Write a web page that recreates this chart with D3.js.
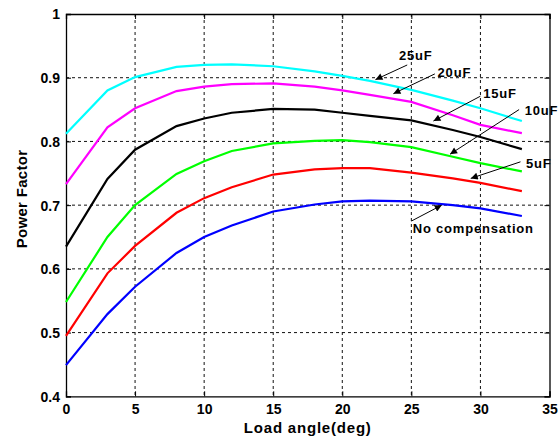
<!DOCTYPE html>
<html><head><meta charset="utf-8">
<script src="https://cdn.jsdelivr.net/npm/d3@7"></script>
<style>body{margin:0;background:#fff}svg{display:block}</style>
</head><body><svg id="c" width="558" height="441"></svg>
<script>
const loadAngle = [0,3,5,8,10,12,15,18,20,22,25,28,30,33];
const pf25uF = [0.812,0.880,0.901,0.917,0.920,0.921,0.918,0.910,0.903,0.895,0.881,0.864,0.852,0.832];
const pf20uF = [0.733,0.822,0.852,0.879,0.886,0.890,0.891,0.886,0.880,0.873,0.862,0.841,0.826,0.813];
const pf15uF = [0.635,0.741,0.787,0.824,0.836,0.845,0.851,0.850,0.845,0.840,0.833,0.818,0.807,0.788];
const pf10uF = [0.548,0.650,0.700,0.749,0.769,0.785,0.797,0.801,0.802,0.799,0.791,0.776,0.766,0.753];
const pf5uF  = [0.495,0.593,0.636,0.688,0.711,0.728,0.748,0.756,0.758,0.758,0.751,0.742,0.735,0.722];
const pfNone = [0.449,0.529,0.572,0.625,0.650,0.668,0.690,0.701,0.706,0.707,0.706,0.700,0.695,0.683];
const seriesNames = ["25uF","20uF","15uF","10uF","5uF","No compensation"];
const seriesColors = ["#00ffff","#ff00ff","#000000","#00ff00","#ff0000","#0000ff"];
const xTicks = [0,5,10,15,20,25,30,35];
const yTicks = [0.4,0.5,0.6,0.7,0.8,0.9,1];
// annotation: [label, label x, label y, arrow start x, y, arrow tip x, y] in data units
const annotations = [
  ["25uF", 24.1, 0.935, 24.7, 0.920, 22.4, 0.897],
  ["20uF", 26.9, 0.909, 26.7, 0.906, 23.7, 0.875],
  ["15uF", 30.2, 0.875, 30.0, 0.871, 26.6, 0.832],
  ["10uF", 33.2, 0.848, 32.8, 0.850, 27.8, 0.780],
  ["5uF",  33.3, 0.766, 32.9, 0.768, 29.3, 0.742],
  ["No compensation", 25.1, 0.664, 25.0, 0.675, 27.2, 0.700]
];

const svg = d3.select("#c");
const L = 66, R = 549.5, T = 14, B = 396.3;
const x = d3.scaleLinear().domain([0,35]).range([L,R]);
const y = d3.scaleLinear().domain([0.4,1]).range([B,T]);
const SANS = "Liberation Sans, Arial, sans-serif";

svg.append("defs").append("marker").attr("id","ah").attr("viewBox","0 0 10 10")
  .attr("refX",10).attr("refY",5).attr("markerWidth",10).attr("markerHeight",7)
  .attr("markerUnits","userSpaceOnUse").attr("orient","auto")
  .append("path").attr("d","M0,0L10,5L0,10z").attr("fill","#000");

// grid
const g = svg.append("g");
g.selectAll(".gx").data(xTicks.slice(1,-1)).enter().append("line")
  .attr("x1",d=>x(d)).attr("x2",d=>x(d)).attr("y1",T).attr("y2",B)
  .attr("stroke","#111").attr("stroke-width",1).attr("stroke-dasharray","3,3");
g.selectAll(".gy").data(yTicks.slice(1,-1)).enter().append("line")
  .attr("y1",d=>y(d)).attr("y2",d=>y(d)).attr("x1",L).attr("x2",R)
  .attr("stroke","#111").attr("stroke-width",1).attr("stroke-dasharray","3,3");

// axes
const xa = svg.append("g").attr("transform",`translate(0,${B})`)
  .call(d3.axisBottom(x).tickValues(xTicks).tickSize(-5).tickPadding(8).tickFormat(d3.format("d")));
const ya = svg.append("g").attr("transform",`translate(${L},0)`)
  .call(d3.axisLeft(y).tickValues(yTicks).tickSize(-5).tickPadding(6).tickFormat(d=>d===1?"1":d3.format(".1f")(d)));
svg.append("g").attr("transform",`translate(0,${T})`).call(d3.axisTop(x).tickValues(xTicks).tickSize(-5).tickFormat(""));
svg.append("g").attr("transform",`translate(${R},0)`).call(d3.axisRight(y).tickValues(yTicks).tickSize(-5).tickFormat(""));
svg.selectAll(".domain").attr("stroke","#000").attr("stroke-width",1.3);
svg.selectAll(".tick line").attr("stroke","#000");
xa.selectAll("text").attr("font-family",SANS).attr("font-weight","bold").attr("font-size",14).attr("fill","#000");
ya.selectAll("text").attr("font-family",SANS).attr("font-weight","bold").attr("font-size",14).attr("fill","#000").attr("dy","0.35em");

// lines
const allSeries = [pf25uF,pf20uF,pf15uF,pf10uF,pf5uF,pfNone];
const line = d3.line().x((d,i)=>x(loadAngle[i])).y(d=>y(d));
svg.append("g").selectAll("path").data(allSeries).enter().append("path")
  .attr("d",line).attr("fill","none").attr("stroke",(d,i)=>seriesColors[i]).attr("stroke-width",2.2);

// annotations
const an = svg.append("g");
annotations.forEach(a=>{
  an.append("line").attr("x1",x(a[3])).attr("y1",y(a[4])).attr("x2",x(a[5])).attr("y2",y(a[6]))
    .attr("stroke","#000").attr("stroke-width",1).attr("marker-end","url(#ah)");
  an.append("text").attr("x",x(a[1])).attr("y",y(a[2])).attr("dy","0.35em").text(a[0])
    .attr("font-family",SANS).attr("font-weight","bold").attr("font-size",13).attr("letter-spacing",0.8).attr("fill","#000");
});

// axis labels
svg.append("text").attr("x",(L+R)/2).attr("y",433).attr("text-anchor","middle")
  .attr("font-family",SANS).attr("font-weight","bold").attr("font-size",15).attr("letter-spacing",0.8).text("Load angle(deg)");
svg.append("text").attr("transform",`translate(27,199) rotate(-90)`).attr("text-anchor","middle")
  .attr("font-family",SANS).attr("font-weight","bold").attr("font-size",15).attr("letter-spacing",0.3).text("Power Factor");
</script></body></html>
